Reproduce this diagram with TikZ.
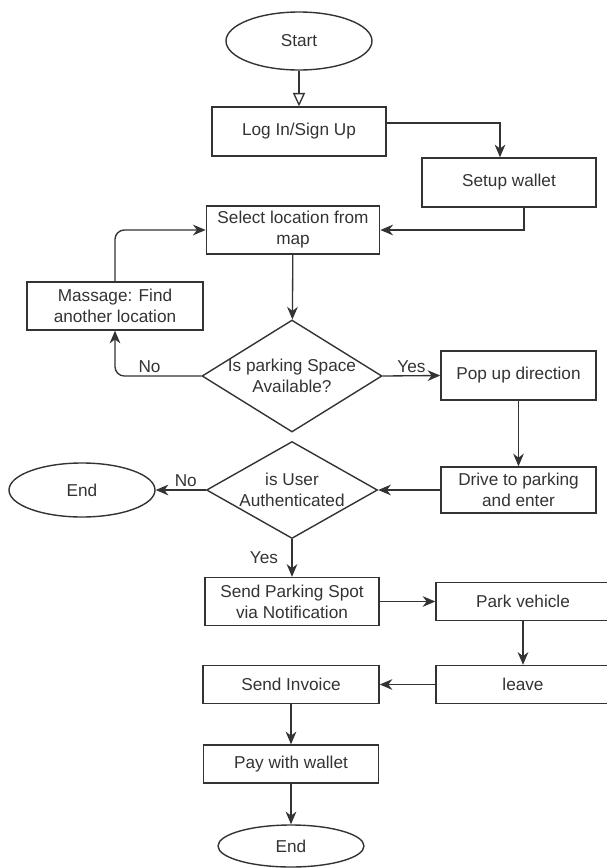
\documentclass[tikz,border=0pt]{standalone}
\usepackage{fontspec}
\setmainfont{Liberation Sans}
\usepackage{tikz}
\usetikzlibrary{arrows.meta,positioning,shapes.geometric}
\definecolor{ink}{HTML}{333333}

\begin{document}
\begin{tikzpicture}[x=0.75pt,y=-0.75pt,
  txt/.style={text=ink,font=\fontsize{12.9}{15.75}\selectfont,align=center},
  n/.style={txt,draw=ink,line width=1.05pt,inner sep=0pt},
  term/.style={n,ellipse},
  dec/.style={n,diamond},
  lbl/.style={txt,inner sep=2pt},
  ar/.style={draw=ink,line width=1pt,-{Stealth[length=9.5pt,width=8pt,inset=3pt]}},
  oar/.style={draw=ink,line width=1pt,-{Triangle[open,length=10pt,width=9pt]}}]
\useasboundingbox (0,0) rectangle (607,868);
\node[term,minimum width=109.5pt,minimum height=43.5pt] (start) at (299,41)  {Start};
\node[n,minimum width=130.5pt,minimum height=36.75pt] (login)   at (299,131.5) {Log In/Sign Up};
\node[n,minimum width=130.5pt,minimum height=36.75pt] (setup)   at (509,182.5) {Setup wallet};
\node[n,minimum width=130pt,minimum height=36pt]      (select)  at (293,230)   {Select location from\\map};
\node[n,minimum width=132pt,minimum height=36pt]      (massage) at (115,306)   {Massage: Find\\another location};
\node[dec,minimum width=135pt,minimum height=84pt,
  label={[txt]center:Is parking Space\\Available?}] (d1) at (292,376) {};
\node[n,minimum width=116.25pt,minimum height=36.75pt] (popup) at (518.5,375.5) {Pop up direction};
\node[n,minimum width=116.25pt,minimum height=34.5pt]  (drive) at (518.5,490)   {Drive to parking\\and enter};
\node[dec,minimum width=128.25pt,minimum height=72.75pt,
  label={[txt]center:is User\\Authenticated}] (d2) at (292,490) {};
\node[term,minimum width=109.5pt,minimum height=40.5pt] (end1) at (82,490) {End};
\node[n,minimum width=130.5pt,minimum height=36pt]   (spot)    at (292,601.5) {Send Parking Spot\\via Notification};
\node[n,minimum width=130.5pt,minimum height=28.5pt] (park)    at (523,601.5) {Park vehicle};
\node[n,minimum width=130.5pt,minimum height=28.5pt] (leave)   at (523,684.5) {leave};
\node[n,minimum width=132pt,minimum height=28.5pt]   (invoice) at (291,684.5) {Send Invoice};
\node[n,minimum width=131.25pt,minimum height=28.5pt] (pay)    at (291,764)   {Pay with wallet};
\node[term,minimum width=109.5pt,minimum height=31.5pt] (end2) at (291,846) {End};
% connectors
\draw[oar] (start) -- (login);
\draw[ar] ([yshift=6.4pt]login.east) -| ([xshift=-6.75pt]setup.north);
\draw[ar] ([xshift=11.25pt]setup.south) |- (select.east);
\draw[ar,rounded corners=7pt] (massage.north) |- (select.west);
\draw[ar,rounded corners=7pt] (d1.west) -| node[lbl,above,pos=0.3] (no1) {No} (massage.south);
\draw[ar] (d1.east) -- node[lbl,above] (yes1) {Yes} (popup.west);
\draw[ar] (d2.west) -- node[lbl,above,pos=0.4] (no2) {No} (end1.east);
\draw[ar] (d2.south) -- node[lbl,left,xshift=-8pt] (yes2) {Yes} (spot.north);
\foreach \a/\b in {select/d1,popup/drive,drive/d2,spot/park,park/leave,leave/invoice,invoice/pay,pay/end2}
  \draw[ar] (\a) -- (\b);
\end{tikzpicture}
\end{document}
